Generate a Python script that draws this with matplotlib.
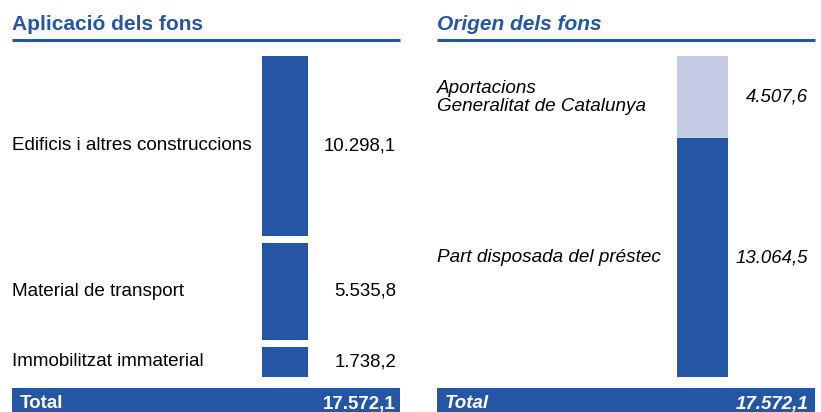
import numpy as np
import matplotlib
matplotlib.use('Agg')
import matplotlib.pyplot as plt
import matplotlib.transforms as mtransforms

plt.rcParams['font.family'] = ['Liberation Sans', 'DejaVu Sans']

# ── data ───────────────────────────────────────────────────────────────
apl_labels = ['Immobilitzat immaterial', 'Material de transport',
              'Edificis i altres construccions']
apl_values = [1738.2, 5535.8, 10298.1]
apl_text = ['1.738,2', '5.535,8', '10.298,1']

ori_labels = ['Part disposada del préstec', 'Aportacions\nGeneralitat de Catalunya']
ori_values = [13064.5, 4507.6]
ori_text = ['13.064,5', '4.507,6']

total_text = '17.572,1'

DARK = '#2556A3'
LIGHT = '#C5CAE5'
W, H = 821, 412

def fx(px): return px / W
def fy(py): return 1 - py / H

fig = plt.figure(figsize=(W / 100, H / 100), dpi=100)

def panel(x0, x1, bar_x0, bar_x1, title, labels, values, texts, colors,
          gap, italic, val_right):
    style = 'italic' if italic else 'normal'
    # title + rule
    fig.text(fx(x0), fy(24), title, color=DARK, fontsize=15, fontweight='bold',
             style=style, va='center', ha='left')
    fig.add_artist(plt.Line2D([fx(x0), fx(x1)], [fy(40), fy(40)], color=DARK,
                              lw=2.2, solid_capstyle='butt'))

    # stacked bar
    ax = fig.add_axes([fx(bar_x0), fy(377), fx(bar_x1) - fx(bar_x0), (377 - 56) / H])
    total = sum(values)
    gap_d = total * gap
    bottoms = np.cumsum([0] + list(values[:-1])) + gap_d * np.arange(len(values))
    ax.bar([0] * len(values), values, bottom=bottoms, width=1, color=colors)
    ax.set_xlim(-0.5, 0.5)
    ax.set_ylim(0, total + gap_d * (len(values) - 1))
    ax.axis('off')

    tr = mtransforms.blended_transform_factory(fig.transFigure, ax.transData)
    for lab, v, b, t in zip(labels, values, bottoms, texts):
        yc = b + v / 2
        ax.text(fx(x0), yc, lab, transform=tr, fontsize=13.6, style=style,
                va='center', ha='left', linespacing=1.1)
        ax.text(fx(val_right), yc, t, transform=tr, fontsize=13.4, style=style,
                va='center', ha='right')

    # total bar
    axt = fig.add_axes([fx(x0), 0, fx(x1) - fx(x0), (412 - 388) / H])
    axt.barh([0], [total], height=1, color=DARK)
    axt.set_xlim(0, total)
    axt.set_ylim(-0.5, 0.5)
    axt.axis('off')
    fig.text(fx(x0 + 8), fy(404), 'Total', color='white', fontsize=13.5,
             fontweight='bold', style=style, va='center', ha='left')
    fig.text(fx(val_right), fy(404), total_text, color='white', fontsize=13.5,
             fontweight='bold', style=style, va='center', ha='right')

panel(12, 400, 262, 308, 'Aplicació dels fons', apl_labels, apl_values, apl_text,
      [DARK, DARK, DARK], 0.023, False, 396)
panel(437, 815, 677, 728, 'Origen dels fons', ori_labels, ori_values, ori_text,
      [DARK, LIGHT], 0.0, True, 808)

fig.savefig('out.png', dpi=100)
